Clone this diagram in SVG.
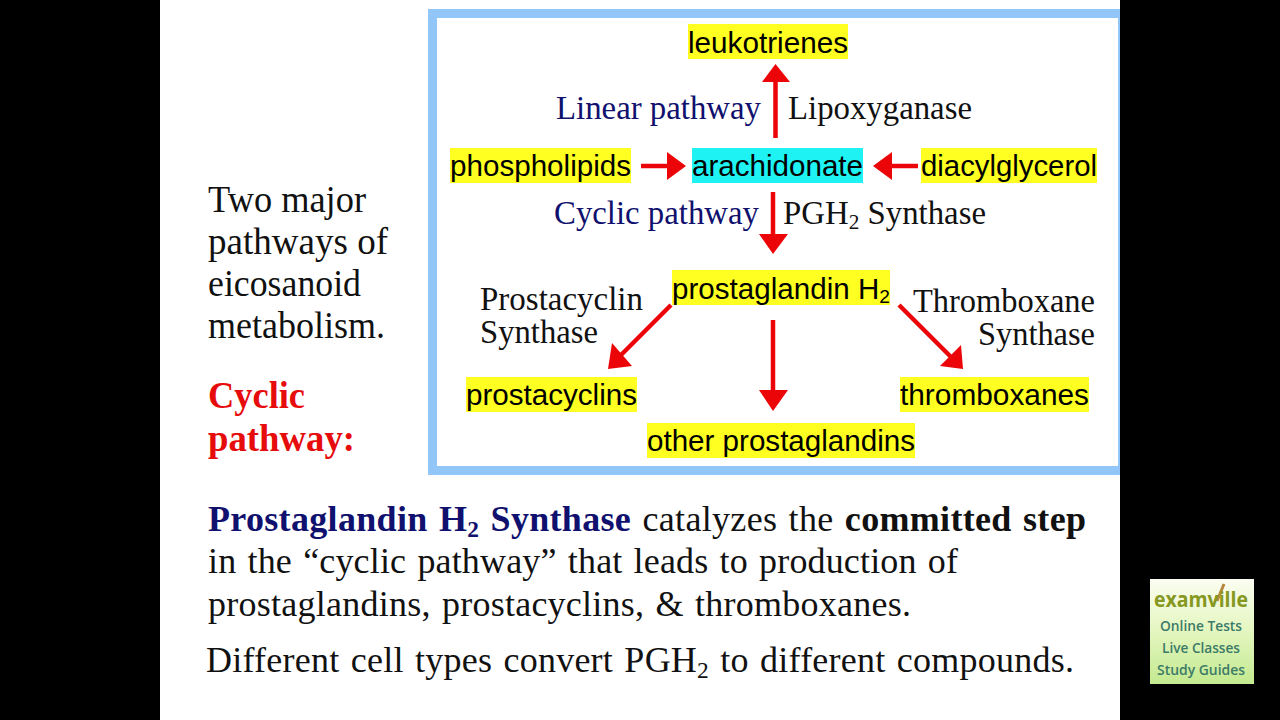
<svg xmlns="http://www.w3.org/2000/svg" width="1280" height="720" viewBox="0 0 1280 720">
<style>
.h{font-family:"Liberation Sans",Arial,sans-serif;font-size:29.500px;fill:#000}
.s{font-family:"Liberation Serif","Times New Roman",serif;font-size:32.800px;fill:#111}
.n{fill:#10106e}
.r{fill:#e60c0c;font-weight:bold}
.b{font-weight:bold}
.y{fill:#ffff22}
.sm{font-size:65%}
.a{stroke:#ec0508;stroke-width:4.500;fill:none}
.t{fill:#ec0508}
</style>
<rect width="1280" height="720" fill="#000"/>
<rect x="160" y="0" width="960" height="720" fill="#fff"/>
<rect x="432.500" y="13.500" width="690" height="457" fill="#fff" stroke="#93c6f8" stroke-width="9"/>
<rect x="1120" y="0" width="160" height="720" fill="#000"/>
<g id="connectors">
<path class="a" d="M775.500 138V80"/><polygon class="t" points="775.500,64 762,82 790,82"/>
<path class="a" d="M641 166H668"/><polygon class="t" points="686,166 667,152 667,180"/>
<path class="a" d="M918 166H890"/><polygon class="t" points="873,166 892,152 892,180"/>
<path class="a" d="M773 192V236"/><polygon class="t" points="773,254 759,234 788,234"/>
<path class="a" d="M671 305L620 356"/><polygon class="t" points="608,369 632,366 612,343"/>
<path class="a" d="M899 305L952 358"/><polygon class="t" points="963,369 940,366 961,345"/>
<path class="a" d="M773 320V392"/><polygon class="t" points="773,411 759,390 788,390"/>
</g>
<g id="leukotrienes"><rect class="y" x="688" y="24" width="160" height="35"/><text class="h" x="688" y="53" textLength="160" lengthAdjust="spacingAndGlyphs">leukotrienes</text></g>
<g id="phospholipids"><rect class="y" x="450" y="148" width="181" height="35"/><text class="h" x="450" y="176" textLength="181" lengthAdjust="spacingAndGlyphs">phospholipids</text></g>
<g id="arachidonate"><rect fill="#1ef2f2" x="692" y="148" width="171" height="35"/><text class="h" x="692" y="176" textLength="171" lengthAdjust="spacingAndGlyphs">arachidonate</text></g>
<g id="diacylglycerol"><rect class="y" x="921" y="148" width="176" height="35"/><text class="h" x="921" y="176" textLength="176" lengthAdjust="spacingAndGlyphs">diacylglycerol</text></g>
<g id="prostaglandin"><rect class="y" x="672" y="270" width="218" height="35"/><text class="h" x="672" y="299" textLength="218" lengthAdjust="spacing">prostaglandin H<tspan class="sm" dy="4">2</tspan></text></g>
<g id="prostacyclins"><rect class="y" x="466" y="377" width="171" height="35"/><text class="h" x="466" y="405" textLength="171" lengthAdjust="spacingAndGlyphs">prostacyclins</text></g>
<g id="thromboxanes"><rect class="y" x="900" y="377" width="189" height="35"/><text class="h" x="900" y="405" textLength="189" lengthAdjust="spacingAndGlyphs">thromboxanes</text></g>
<g id="other-prostaglandins"><rect class="y" x="647" y="423" width="268" height="35"/><text class="h" x="647" y="451" textLength="268" lengthAdjust="spacingAndGlyphs">other prostaglandins</text></g>
<g id="labels">
<text class="s n" x="556" y="119" textLength="205" lengthAdjust="spacingAndGlyphs">Linear pathway</text>
<text class="s" x="788" y="119" textLength="184" lengthAdjust="spacingAndGlyphs">Lipoxyganase</text>
<text class="s n" x="554" y="224" textLength="205" lengthAdjust="spacingAndGlyphs">Cyclic pathway</text>
<text class="s" x="783" y="224" textLength="203">PGH<tspan class="sm" dy="5">2</tspan><tspan dy="-5"> Synthase</tspan></text>
<text class="s" x="480" y="310" textLength="163" lengthAdjust="spacingAndGlyphs">Prostacyclin</text>
<text class="s" x="480" y="343" textLength="118" lengthAdjust="spacingAndGlyphs">Synthase</text>
<text class="s" x="913" y="312" textLength="182" lengthAdjust="spacingAndGlyphs">Thromboxane</text>
<text class="s" x="978" y="345" textLength="117" lengthAdjust="spacingAndGlyphs">Synthase</text>
</g>
<g id="side-text" font-family="Liberation Serif, Times New Roman, serif" font-size="37" fill="#111">
<text x="208" y="212" textLength="158" lengthAdjust="spacingAndGlyphs">Two major</text>
<text x="208" y="254" textLength="180" lengthAdjust="spacingAndGlyphs">pathways of</text>
<text x="208" y="296" textLength="153" lengthAdjust="spacingAndGlyphs">eicosanoid</text>
<text x="208" y="338" textLength="177" lengthAdjust="spacingAndGlyphs">metabolism.</text>
<text class="r" x="208" y="408" textLength="97" lengthAdjust="spacingAndGlyphs">Cyclic</text>
<text class="r" x="208" y="451" textLength="147" lengthAdjust="spacingAndGlyphs">pathway:</text>
</g>
<g id="bottom-text" font-family="Liberation Serif, Times New Roman, serif" font-size="36" fill="#111" word-spacing="2">
<text x="208" y="531" textLength="878"><tspan class="b n">Prostaglandin H<tspan class="sm" dy="6">2</tspan><tspan dy="-6"> Synthase</tspan></tspan> catalyzes the <tspan class="b">committed step</tspan></text>
<text x="208" y="573" textLength="750">in the “cyclic pathway” that leads to production of</text>
<text x="208" y="616" textLength="703">prostaglandins, prostacyclins, &amp; thromboxanes.</text>
<text x="206" y="672" textLength="868">Different cell types convert PGH<tspan class="sm" dy="6">2</tspan><tspan dy="-6"> to different compounds.</tspan></text>
</g>
<g id="badge" font-family="Open Sans, Liberation Sans, sans-serif" font-weight="600" text-anchor="middle">
<defs><linearGradient id="g" x1="0" y1="0" x2="0" y2="1"><stop offset="0" stop-color="#fbfdf2"/><stop offset=".45" stop-color="#e6f7c4"/><stop offset="1" stop-color="#c4ea90"/></linearGradient></defs>
<rect x="1150" y="579" width="104" height="105" fill="url(#g)"/>
<path d="M1217 601L1224 584" stroke="#b9873c" stroke-width="3" fill="none"/>
<text x="1201" y="607" font-size="21" font-weight="700" fill="#86981f" textLength="94" lengthAdjust="spacingAndGlyphs">examville</text>
<text x="1201" y="631" font-size="15" fill="#3d7a68" textLength="82" lengthAdjust="spacingAndGlyphs">Online Tests</text>
<text x="1201" y="653" font-size="15" fill="#3d7a68" textLength="78" lengthAdjust="spacingAndGlyphs">Live Classes</text>
<text x="1201" y="675" font-size="15" fill="#3d7a68" textLength="88" lengthAdjust="spacingAndGlyphs">Study Guides</text>
</g>
</svg>
